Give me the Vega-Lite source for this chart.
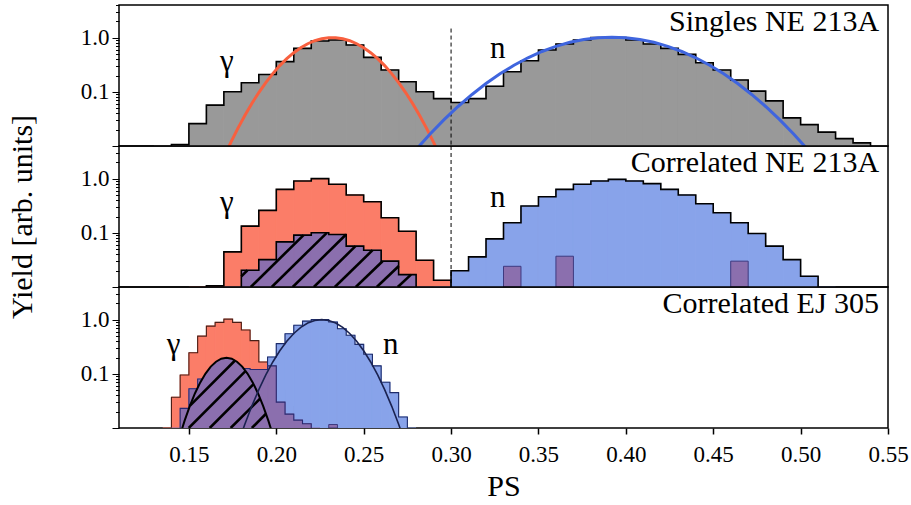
{
"$schema": "https://vega.github.io/schema/vega-lite/v6.json",
"background": "white",
"padding": {"left": 6, "top": 3, "right": 0, "bottom": 0},
"spacing": 0,
"bounds": "flush",
"config": {
  "view": {"stroke": "black", "strokeWidth": 1.5},
  "font": "Liberation Serif",
  "axis": {"labelFont": "Liberation Serif", "titleFont": "Liberation Serif", "labelFontSize": 23, "titleFontSize": 30, "titleFontWeight": "normal", "labelColor": "black", "titleColor": "black", "tickColor": "black", "domain": false, "grid": false, "labelFlush": false, "labelOverlap": false}
},
"datasets": {
"hist": [
{"p":1,"s":"g","x":0.13,"x2":0.14,"v":0.001},{"p":1,"s":"g","x":0.14,"x2":0.15,"v":0.0106},{"p":1,"s":"g","x":0.15,"x2":0.16,"v":0.0259},{"p":1,"s":"g","x":0.16,"x2":0.17,"v":0.0567},{"p":1,"s":"g","x":0.17,"x2":0.18,"v":0.1},{"p":1,"s":"g","x":0.18,"x2":0.19,"v":0.147},{"p":1,"s":"g","x":0.19,"x2":0.2,"v":0.209},{"p":1,"s":"g","x":0.2,"x2":0.21,"v":0.36},{"p":1,"s":"g","x":0.21,"x2":0.22,"v":0.634},{"p":1,"s":"g","x":0.22,"x2":0.23,"v":0.868},{"p":1,"s":"g","x":0.23,"x2":0.24,"v":0.906},{"p":1,"s":"g","x":0.24,"x2":0.25,"v":0.732},{"p":1,"s":"g","x":0.25,"x2":0.26,"v":0.432},{"p":1,"s":"g","x":0.26,"x2":0.27,"v":0.252},{"p":1,"s":"g","x":0.27,"x2":0.28,"v":0.153},{"p":1,"s":"g","x":0.28,"x2":0.29,"v":0.1},{"p":1,"s":"g","x":0.29,"x2":0.3,"v":0.075},{"p":1,"s":"g","x":0.3,"x2":0.31,"v":0.0634},{"p":1,"s":"g","x":0.31,"x2":0.32,"v":0.075},{"p":1,"s":"g","x":0.32,"x2":0.33,"v":0.127},{"p":1,"s":"g","x":0.33,"x2":0.34,"v":0.235},{"p":1,"s":"g","x":0.34,"x2":0.35,"v":0.375},{"p":1,"s":"g","x":0.35,"x2":0.36,"v":0.59},{"p":1,"s":"g","x":0.36,"x2":0.37,"v":0.764},{"p":1,"s":"g","x":0.37,"x2":0.38,"v":0.906},{"p":1,"s":"g","x":0.38,"x2":0.39,"v":1.0},{"p":1,"s":"g","x":0.39,"x2":0.4,"v":1.0},{"p":1,"s":"g","x":0.4,"x2":0.41,"v":0.906},{"p":1,"s":"g","x":0.41,"x2":0.42,"v":0.764},{"p":1,"s":"g","x":0.42,"x2":0.43,"v":0.634},{"p":1,"s":"g","x":0.43,"x2":0.44,"v":0.49},{"p":1,"s":"g","x":0.44,"x2":0.45,"v":0.344},{"p":1,"s":"g","x":0.45,"x2":0.46,"v":0.252},{"p":1,"s":"g","x":0.46,"x2":0.47,"v":0.165},{"p":1,"s":"g","x":0.47,"x2":0.48,"v":0.103},{"p":1,"s":"g","x":0.48,"x2":0.49,"v":0.068},{"p":1,"s":"g","x":0.49,"x2":0.5,"v":0.033},{"p":1,"s":"g","x":0.5,"x2":0.51,"v":0.0248},{"p":1,"s":"g","x":0.51,"x2":0.52,"v":0.018},{"p":1,"s":"g","x":0.52,"x2":0.53,"v":0.0137},{"p":1,"s":"g","x":0.53,"x2":0.54,"v":0.0114},{"p":1,"s":"g","x":0.54,"x2":0.55,"v":0.001},

{"p":2,"s":"r","x":0.15,"x2":0.16,"v":0.001},{"p":2,"s":"r","x":0.16,"x2":0.17,"v":0.0105},{"p":2,"s":"r","x":0.17,"x2":0.18,"v":0.0445},{"p":2,"s":"r","x":0.18,"x2":0.19,"v":0.133},{"p":2,"s":"r","x":0.19,"x2":0.2,"v":0.259},{"p":2,"s":"r","x":0.2,"x2":0.21,"v":0.634},{"p":2,"s":"r","x":0.21,"x2":0.22,"v":0.906},{"p":2,"s":"r","x":0.22,"x2":0.23,"v":1.0},{"p":2,"s":"r","x":0.23,"x2":0.24,"v":0.785},{"p":2,"s":"r","x":0.24,"x2":0.25,"v":0.5},{"p":2,"s":"r","x":0.25,"x2":0.26,"v":0.375},{"p":2,"s":"r","x":0.26,"x2":0.27,"v":0.19},{"p":2,"s":"r","x":0.27,"x2":0.28,"v":0.107},{"p":2,"s":"r","x":0.28,"x2":0.29,"v":0.0312},{"p":2,"s":"r","x":0.29,"x2":0.3,"v":0.0133},{"p":2,"s":"r","x":0.3,"x2":0.31,"v":0.001},

{"p":2,"s":"b","x":0.29,"x2":0.3,"v":0.001},{"p":2,"s":"b","x":0.3,"x2":0.31,"v":0.02},{"p":2,"s":"b","x":0.31,"x2":0.32,"v":0.036},{"p":2,"s":"b","x":0.32,"x2":0.33,"v":0.0774},{"p":2,"s":"b","x":0.33,"x2":0.34,"v":0.153},{"p":2,"s":"b","x":0.34,"x2":0.35,"v":0.312},{"p":2,"s":"b","x":0.35,"x2":0.36,"v":0.464},{"p":2,"s":"b","x":0.36,"x2":0.37,"v":0.634},{"p":2,"s":"b","x":0.37,"x2":0.38,"v":0.785},{"p":2,"s":"b","x":0.38,"x2":0.39,"v":0.906},{"p":2,"s":"b","x":0.39,"x2":0.4,"v":0.97},{"p":2,"s":"b","x":0.4,"x2":0.41,"v":0.906},{"p":2,"s":"b","x":0.41,"x2":0.42,"v":0.808},{"p":2,"s":"b","x":0.42,"x2":0.43,"v":0.634},{"p":2,"s":"b","x":0.43,"x2":0.44,"v":0.5},{"p":2,"s":"b","x":0.44,"x2":0.45,"v":0.344},{"p":2,"s":"b","x":0.45,"x2":0.46,"v":0.235},{"p":2,"s":"b","x":0.46,"x2":0.47,"v":0.153},{"p":2,"s":"b","x":0.47,"x2":0.48,"v":0.097},{"p":2,"s":"b","x":0.48,"x2":0.49,"v":0.0567},{"p":2,"s":"b","x":0.49,"x2":0.5,"v":0.032},{"p":2,"s":"b","x":0.5,"x2":0.51,"v":0.0158},{"p":2,"s":"b","x":0.51,"x2":0.52,"v":0.001},

{"p":2,"s":"h","x":0.17,"x2":0.18,"v":0.001},{"p":2,"s":"h","x":0.18,"x2":0.19,"v":0.0204},{"p":2,"s":"h","x":0.19,"x2":0.2,"v":0.032},{"p":2,"s":"h","x":0.2,"x2":0.21,"v":0.068},{"p":2,"s":"h","x":0.21,"x2":0.22,"v":0.0906},{"p":2,"s":"h","x":0.22,"x2":0.23,"v":0.1},{"p":2,"s":"h","x":0.23,"x2":0.24,"v":0.093},{"p":2,"s":"h","x":0.24,"x2":0.25,"v":0.0567},{"p":2,"s":"h","x":0.25,"x2":0.26,"v":0.0478},{"p":2,"s":"h","x":0.26,"x2":0.27,"v":0.03},{"p":2,"s":"h","x":0.27,"x2":0.28,"v":0.0169},{"p":2,"s":"h","x":0.28,"x2":0.29,"v":0.001},

{"p":2,"s":"m","x":0.33,"x2":0.34,"v":0.0241},{"p":2,"s":"m","x":0.36,"x2":0.37,"v":0.037},{"p":2,"s":"m","x":0.46,"x2":0.47,"v":0.03},

{"p":3,"s":"r","x":0.135,"x2":0.14,"v":0.001},{"p":3,"s":"r","x":0.14,"x2":0.145,"v":0.037},{"p":3,"s":"r","x":0.145,"x2":0.15,"v":0.095},{"p":3,"s":"r","x":0.15,"x2":0.155,"v":0.245},{"p":3,"s":"r","x":0.155,"x2":0.16,"v":0.495},{"p":3,"s":"r","x":0.16,"x2":0.165,"v":0.76},{"p":3,"s":"r","x":0.165,"x2":0.17,"v":0.89},{"p":3,"s":"r","x":0.17,"x2":0.175,"v":1.02},{"p":3,"s":"r","x":0.175,"x2":0.18,"v":0.89},{"p":3,"s":"r","x":0.18,"x2":0.185,"v":0.645},{"p":3,"s":"r","x":0.185,"x2":0.19,"v":0.41},{"p":3,"s":"r","x":0.19,"x2":0.195,"v":0.165},{"p":3,"s":"r","x":0.195,"x2":0.2,"v":0.1},{"p":3,"s":"r","x":0.2,"x2":0.205,"v":0.05},{"p":3,"s":"r","x":0.205,"x2":0.21,"v":0.025},{"p":3,"s":"r","x":0.21,"x2":0.215,"v":0.012},{"p":3,"s":"r","x":0.215,"x2":0.22,"v":0.001},

{"p":3,"s":"b","x":0.19,"x2":0.195,"v":0.001},{"p":3,"s":"b","x":0.195,"x2":0.2,"v":0.204},{"p":3,"s":"b","x":0.2,"x2":0.205,"v":0.36},{"p":3,"s":"b","x":0.205,"x2":0.21,"v":0.55},{"p":3,"s":"b","x":0.21,"x2":0.215,"v":0.785},{"p":3,"s":"b","x":0.215,"x2":0.22,"v":0.94},{"p":3,"s":"b","x":0.22,"x2":0.225,"v":1.0},{"p":3,"s":"b","x":0.225,"x2":0.23,"v":1.0},{"p":3,"s":"b","x":0.23,"x2":0.235,"v":0.906},{"p":3,"s":"b","x":0.235,"x2":0.24,"v":0.68},{"p":3,"s":"b","x":0.24,"x2":0.245,"v":0.514},{"p":3,"s":"b","x":0.245,"x2":0.25,"v":0.35},{"p":3,"s":"b","x":0.25,"x2":0.255,"v":0.23},{"p":3,"s":"b","x":0.255,"x2":0.26,"v":0.14},{"p":3,"s":"b","x":0.26,"x2":0.265,"v":0.07},{"p":3,"s":"b","x":0.265,"x2":0.27,"v":0.045},{"p":3,"s":"b","x":0.27,"x2":0.275,"v":0.016},{"p":3,"s":"b","x":0.275,"x2":0.28,"v":0.001},

{"p":3,"s":"h","x":0.14,"x2":0.145,"v":0.001},{"p":3,"s":"h","x":0.145,"x2":0.15,"v":0.023},{"p":3,"s":"h","x":0.15,"x2":0.155,"v":0.053},{"p":3,"s":"h","x":0.155,"x2":0.16,"v":0.08},{"p":3,"s":"h","x":0.16,"x2":0.165,"v":0.1},{"p":3,"s":"h","x":0.165,"x2":0.17,"v":0.115},{"p":3,"s":"h","x":0.17,"x2":0.175,"v":0.12},{"p":3,"s":"h","x":0.175,"x2":0.18,"v":0.125},{"p":3,"s":"h","x":0.18,"x2":0.185,"v":0.125},{"p":3,"s":"h","x":0.185,"x2":0.19,"v":0.12},{"p":3,"s":"h","x":0.19,"x2":0.195,"v":0.12},{"p":3,"s":"h","x":0.195,"x2":0.2,"v":0.14},{"p":3,"s":"h","x":0.2,"x2":0.205,"v":0.03},{"p":3,"s":"h","x":0.205,"x2":0.21,"v":0.018},{"p":3,"s":"h","x":0.21,"x2":0.215,"v":0.014},{"p":3,"s":"h","x":0.215,"x2":0.22,"v":0.012},{"p":3,"s":"h","x":0.22,"x2":0.225,"v":0.001},

{"p":3,"s":"m","x":0.23,"x2":0.235,"v":0.0116}
],
"curves": [
{"c":"r1","x":0.170,"v":0.00619},{"c":"r1","x":0.174,"v":0.01168},{"c":"r1","x":0.178,"v":0.02113},{"c":"r1","x":0.182,"v":0.03665},{"c":"r1","x":0.186,"v":0.0609},{"c":"r1","x":0.190,"v":0.097},{"c":"r1","x":0.194,"v":0.1481},{"c":"r1","x":0.198,"v":0.2167},{"c":"r1","x":0.202,"v":0.3042},{"c":"r1","x":0.206,"v":0.409},{"c":"r1","x":0.210,"v":0.527},{"c":"r1","x":0.214,"v":0.6514},{"c":"r1","x":0.218,"v":0.7716},{"c":"r1","x":0.222,"v":0.876},{"c":"r1","x":0.226,"v":0.9535},{"c":"r1","x":0.230,"v":0.995},{"c":"r1","x":0.234,"v":0.995},{"c":"r1","x":0.238,"v":0.9535},{"c":"r1","x":0.242,"v":0.876},{"c":"r1","x":0.246,"v":0.7716},{"c":"r1","x":0.250,"v":0.6514},{"c":"r1","x":0.254,"v":0.527},{"c":"r1","x":0.258,"v":0.409},{"c":"r1","x":0.262,"v":0.3042},{"c":"r1","x":0.266,"v":0.2167},{"c":"r1","x":0.270,"v":0.1481},{"c":"r1","x":0.274,"v":0.097},{"c":"r1","x":0.278,"v":0.0609},{"c":"r1","x":0.282,"v":0.03665},{"c":"r1","x":0.286,"v":0.02113},{"c":"r1","x":0.290,"v":0.01168},{"c":"r1","x":0.294,"v":0.00619},

{"c":"b1","x":0.272,"v":0.00425},{"c":"b1","x":0.280,"v":0.00862},{"c":"b1","x":0.288,"v":0.01665},{"c":"b1","x":0.296,"v":0.0306},{"c":"b1","x":0.304,"v":0.0536},{"c":"b1","x":0.312,"v":0.0893},{"c":"b1","x":0.320,"v":0.1419},{"c":"b1","x":0.328,"v":0.2146},{"c":"b1","x":0.336,"v":0.3093},{"c":"b1","x":0.344,"v":0.4245},{"c":"b1","x":0.352,"v":0.5549},{"c":"b1","x":0.360,"v":0.6908},{"c":"b1","x":0.368,"v":0.8193},{"c":"b1","x":0.376,"v":0.9253},{"c":"b1","x":0.384,"v":0.9954},{"c":"b1","x":0.392,"v":1.02},{"c":"b1","x":0.400,"v":0.9954},{"c":"b1","x":0.408,"v":0.9253},{"c":"b1","x":0.416,"v":0.8193},{"c":"b1","x":0.424,"v":0.6908},{"c":"b1","x":0.432,"v":0.5549},{"c":"b1","x":0.440,"v":0.4245},{"c":"b1","x":0.448,"v":0.3093},{"c":"b1","x":0.456,"v":0.2146},{"c":"b1","x":0.464,"v":0.1419},{"c":"b1","x":0.472,"v":0.0893},{"c":"b1","x":0.480,"v":0.0536},{"c":"b1","x":0.488,"v":0.0306},{"c":"b1","x":0.496,"v":0.01665},{"c":"b1","x":0.504,"v":0.00862},{"c":"b1","x":0.512,"v":0.00425},

{"c":"b3","x":0.178,"v":0.00505},{"c":"b3","x":0.182,"v":0.01176},{"c":"b3","x":0.186,"v":0.0254},{"c":"b3","x":0.190,"v":0.0511},{"c":"b3","x":0.194,"v":0.0953},{"c":"b3","x":0.198,"v":0.1654},{"c":"b3","x":0.202,"v":0.2666},{"c":"b3","x":0.206,"v":0.3993},{"c":"b3","x":0.210,"v":0.5557},{"c":"b3","x":0.214,"v":0.7186},{"c":"b3","x":0.218,"v":0.8634},{"c":"b3","x":0.222,"v":0.964},{"c":"b3","x":0.226,"v":1.0},{"c":"b3","x":0.230,"v":0.964},{"c":"b3","x":0.234,"v":0.8634},{"c":"b3","x":0.238,"v":0.7186},{"c":"b3","x":0.242,"v":0.5557},{"c":"b3","x":0.246,"v":0.3993},{"c":"b3","x":0.250,"v":0.2666},{"c":"b3","x":0.254,"v":0.1654},{"c":"b3","x":0.258,"v":0.0953},{"c":"b3","x":0.262,"v":0.0511},{"c":"b3","x":0.266,"v":0.0254},{"c":"b3","x":0.270,"v":0.01176},{"c":"b3","x":0.274,"v":0.00505},

{"c":"h3","x":0.1445,"v":0.00664},{"c":"h3","x":0.1475,"v":0.01354},{"c":"h3","x":0.1505,"v":0.0254},{"c":"h3","x":0.1535,"v":0.0438},{"c":"h3","x":0.1565,"v":0.0694},{"c":"h3","x":0.1595,"v":0.1012},{"c":"h3","x":0.1625,"v":0.1358},{"c":"h3","x":0.1655,"v":0.1674},{"c":"h3","x":0.1685,"v":0.1899},{"c":"h3","x":0.1715,"v":0.198},{"c":"h3","x":0.1745,"v":0.1899},{"c":"h3","x":0.1775,"v":0.1674},{"c":"h3","x":0.1805,"v":0.1358},{"c":"h3","x":0.1835,"v":0.1012},{"c":"h3","x":0.1865,"v":0.0694},{"c":"h3","x":0.1895,"v":0.0438},{"c":"h3","x":0.1925,"v":0.0254},{"c":"h3","x":0.1955,"v":0.01354},{"c":"h3","x":0.1985,"v":0.00664}
],
"hatch": [
{"p":2,"x":0.18,"v":0.0157,"x2":0.1835,"v2":0.0204},{"p":2,"x":0.1854,"v":0.01,"x2":0.2156,"v2":0.0907},{"p":2,"x":0.1974,"v":0.01,"x2":0.2289,"v2":0.1},{"p":2,"x":0.2094,"v":0.01,"x2":0.2399,"v2":0.093},{"p":2,"x":0.2215,"v":0.01,"x2":0.2453,"v2":0.0567},{"p":2,"x":0.2335,"v":0.01,"x2":0.2551,"v2":0.0478},{"p":2,"x":0.2455,"v":0.01,"x2":0.2608,"v2":0.0299},{"p":2,"x":0.2575,"v":0.01,"x2":0.2701,"v2":0.0244},{"p":2,"x":0.2695,"v":0.01,"x2":0.2771,"v2":0.0169},
{"p":3,"x":0.1505,"v":0.02566,"x2":0.1764,"v2":0.1763},{"p":3,"x":0.1499,"v":0.01,"x2":0.1825,"v2":0.1132},{"p":3,"x":0.1619,"v":0.01,"x2":0.187,"v2":0.0647},{"p":3,"x":0.1739,"v":0.01,"x2":0.1908,"v2":0.035},{"p":3,"x":0.186,"v":0.01,"x2":0.1941,"v2":0.01832}
],
"labels": [
{"p":1,"k":"t","t":"Singles NE 213A","x":0.5449,"v":1.95},
{"p":2,"k":"t","t":"Correlated NE 213A","x":0.5449,"v":1.95},
{"p":3,"k":"t","t":"Correlated EJ 305","x":0.5449,"v":1.95},
{"p":1,"k":"g","t":"γ","x":0.1717,"v":0.36},{"p":1,"k":"g","t":"n","x":0.3267,"v":0.625},
{"p":2,"k":"g","t":"γ","x":0.1717,"v":0.36},{"p":2,"k":"g","t":"n","x":0.3267,"v":0.445},
{"p":3,"k":"g","t":"γ","x":0.1413,"v":0.34},{"p":3,"k":"g","t":"n","x":0.2655,"v":0.34}
]
},
"vconcat": [
{
"width": 769, "height": 141,
"encoding": {
  "x": {"field": "x", "type": "quantitative", "scale": {"domain": [0.11, 0.55], "nice": false, "zero": false}, "axis": null},
  "y": {"field": "v", "type": "quantitative", "scale": {"type": "log", "domain": [0.01, 4], "nice": false}, "axis": {"title": null, "values": [0.01,0.02,0.03,0.04,0.05,0.06,0.07,0.08,0.09,0.1,0.2,0.3,0.4,0.5,0.6,0.7,0.8,0.9,1,2,3,4], "labelExpr": "datum.value == 1 ? '1.0' : (datum.value == 0.1 ? '0.1' : '')", "labelFontSize": {"condition": {"test": "datum.value == 0.1 || datum.value == 1", "value": 23}, "value": 0}, "tickSize": {"condition": {"test": "datum.value == 0.01 || datum.value == 0.1 || datum.value == 1", "value": 7}, "value": 3.5}, "labelPadding": 3}}
},
"layer": [
  {"data": {"name": "hist"}, "transform": [{"filter": "datum.p == 1 && datum.s == 'g'"}], "mark": {"type": "bar", "fill": "#999999", "stroke": "#999999", "strokeWidth": 1, "clip": true}, "encoding": {"x2": {"field": "x2"}, "y2": {"datum": 0.01}}},
  {"data": {"name": "hist"}, "transform": [{"filter": "datum.p == 1 && datum.s == 'g'"}, {"fold": ["x", "x2"], "as": ["k", "x"]}], "mark": {"type": "line", "color": "black", "strokeWidth": 1.6, "clip": true, "strokeJoin": "miter"}, "encoding": {"order": [{"field": "x", "type": "quantitative"}, {"field": "k", "type": "nominal", "sort": "descending"}]}},
  {"data": {"values": [{"x": 0.3, "v": 1.47, "v2": 0.01}]}, "mark": {"type": "rule", "color": "black", "strokeWidth": 1, "strokeDash": [4, 3], "clip": true}, "encoding": {"y2": {"field": "v2"}}},
  {"data": {"name": "curves"}, "transform": [{"filter": "datum.c == 'r1'"}], "mark": {"type": "line", "color": "#F8603F", "strokeWidth": 3, "clip": true}, "encoding": {}},
  {"data": {"name": "curves"}, "transform": [{"filter": "datum.c == 'b1'"}], "mark": {"type": "line", "color": "#3F65DE", "strokeWidth": 3, "clip": true}, "encoding": {}},
  {"data": {"name": "labels"}, "transform": [{"filter": "datum.p == 1 && datum.k == 't'"}], "mark": {"type": "text", "font": "Liberation Serif", "fontSize": 30, "align": "right", "baseline": "middle", "color": "black"}, "encoding": {"text": {"field": "t"}}},
  {"data": {"name": "labels"}, "transform": [{"filter": "datum.p == 1 && datum.k == 'g'"}], "mark": {"type": "text", "font": "Liberation Serif", "fontSize": 31, "align": "center", "baseline": "middle", "color": "black"}, "encoding": {"text": {"field": "t"}}}
]
},
{
"width": 769, "height": 141,
"encoding": {
  "x": {"field": "x", "type": "quantitative", "scale": {"domain": [0.11, 0.55], "nice": false, "zero": false}, "axis": null},
  "y": {"field": "v", "type": "quantitative", "scale": {"type": "log", "domain": [0.01, 4], "nice": false}, "axis": {"title": "Yield [arb. units]", "titlePadding": 43, "values": [0.01,0.02,0.03,0.04,0.05,0.06,0.07,0.08,0.09,0.1,0.2,0.3,0.4,0.5,0.6,0.7,0.8,0.9,1,2,3,4], "labelExpr": "datum.value == 1 ? '1.0' : (datum.value == 0.1 ? '0.1' : '')", "labelFontSize": {"condition": {"test": "datum.value == 0.1 || datum.value == 1", "value": 23}, "value": 0}, "tickSize": {"condition": {"test": "datum.value == 0.01 || datum.value == 0.1 || datum.value == 1", "value": 7}, "value": 3.5}, "labelPadding": 3}}
},
"layer": [
  {"data": {"name": "hist"}, "transform": [{"filter": "datum.p == 2 && datum.s == 'r'"}], "mark": {"type": "bar", "fill": "#FB7D68", "stroke": "#FB7D68", "strokeWidth": 1, "clip": true}, "encoding": {"x2": {"field": "x2"}, "y2": {"datum": 0.01}}},
  {"data": {"name": "hist"}, "transform": [{"filter": "datum.p == 2 && datum.s == 'r'"}, {"fold": ["x", "x2"], "as": ["k", "x"]}], "mark": {"type": "line", "color": "black", "strokeWidth": 1.6, "clip": true, "strokeJoin": "miter"}, "encoding": {"order": [{"field": "x", "type": "quantitative"}, {"field": "k", "type": "nominal", "sort": "descending"}]}},
  {"data": {"name": "hist"}, "transform": [{"filter": "datum.p == 2 && datum.s == 'b'"}], "mark": {"type": "bar", "fill": "#88A3EA", "stroke": "#88A3EA", "strokeWidth": 1, "clip": true}, "encoding": {"x2": {"field": "x2"}, "y2": {"datum": 0.01}}},
  {"data": {"name": "hist"}, "transform": [{"filter": "datum.p == 2 && datum.s == 'b'"}, {"fold": ["x", "x2"], "as": ["k", "x"]}], "mark": {"type": "line", "color": "black", "strokeWidth": 1.6, "clip": true, "strokeJoin": "miter"}, "encoding": {"order": [{"field": "x", "type": "quantitative"}, {"field": "k", "type": "nominal", "sort": "descending"}]}},
  {"data": {"name": "hist"}, "transform": [{"filter": "datum.p == 2 && datum.s == 'h'"}], "mark": {"type": "bar", "fill": "#8B6FAE", "stroke": "#8B6FAE", "strokeWidth": 1, "clip": true}, "encoding": {"x2": {"field": "x2"}, "y2": {"datum": 0.01}}},
  {"data": {"name": "hatch"}, "transform": [{"filter": "datum.p == 2"}], "mark": {"type": "rule", "color": "black", "strokeWidth": 2.6, "clip": true}, "encoding": {"x2": {"field": "x2"}, "y2": {"field": "v2"}}},
  {"data": {"name": "hist"}, "transform": [{"filter": "datum.p == 2 && datum.s == 'h'"}, {"fold": ["x", "x2"], "as": ["k", "x"]}], "mark": {"type": "line", "color": "black", "strokeWidth": 1.6, "clip": true, "strokeJoin": "miter"}, "encoding": {"order": [{"field": "x", "type": "quantitative"}, {"field": "k", "type": "nominal", "sort": "descending"}]}},
  {"data": {"name": "hist"}, "transform": [{"filter": "datum.p == 2 && datum.s == 'm'"}], "mark": {"type": "bar", "fill": "#8B6FAE", "stroke": "#3E3A80", "strokeWidth": 1, "clip": true}, "encoding": {"x2": {"field": "x2"}, "y2": {"datum": 0.01}}},
  {"data": {"values": [{"x": 0.3, "v": 4, "v2": 0.01}]}, "mark": {"type": "rule", "color": "black", "strokeWidth": 1, "strokeDash": [4, 3], "clip": true}, "encoding": {"y2": {"field": "v2"}}},
  {"data": {"name": "labels"}, "transform": [{"filter": "datum.p == 2 && datum.k == 't'"}], "mark": {"type": "text", "font": "Liberation Serif", "fontSize": 30, "align": "right", "baseline": "middle", "color": "black"}, "encoding": {"text": {"field": "t"}}},
  {"data": {"name": "labels"}, "transform": [{"filter": "datum.p == 2 && datum.k == 'g'"}], "mark": {"type": "text", "font": "Liberation Serif", "fontSize": 31, "align": "center", "baseline": "middle", "color": "black"}, "encoding": {"text": {"field": "t"}}}
]
},
{
"width": 769, "height": 141,
"encoding": {
  "x": {"field": "x", "type": "quantitative", "scale": {"domain": [0.11, 0.55], "nice": false, "zero": false}, "axis": {"title": "PS", "values": [0.15,0.2,0.25,0.3,0.35,0.4,0.45,0.5,0.55], "format": ".2f", "tickSize": 6, "tickWidth": 1.5, "labelPadding": 9, "titlePadding": 5}},
  "y": {"field": "v", "type": "quantitative", "scale": {"type": "log", "domain": [0.01, 4], "nice": false}, "axis": {"title": null, "values": [0.01,0.02,0.03,0.04,0.05,0.06,0.07,0.08,0.09,0.1,0.2,0.3,0.4,0.5,0.6,0.7,0.8,0.9,1,2,3,4], "labelExpr": "datum.value == 1 ? '1.0' : (datum.value == 0.1 ? '0.1' : '')", "labelFontSize": {"condition": {"test": "datum.value == 0.1 || datum.value == 1", "value": 23}, "value": 0}, "tickSize": {"condition": {"test": "datum.value == 0.01 || datum.value == 0.1 || datum.value == 1", "value": 7}, "value": 3.5}, "labelPadding": 3}}
},
"layer": [
  {"data": {"name": "hist"}, "transform": [{"filter": "datum.p == 3 && datum.s == 'r'"}], "mark": {"type": "bar", "fill": "#FB7D68", "stroke": "#FB7D68", "strokeWidth": 1, "clip": true}, "encoding": {"x2": {"field": "x2"}, "y2": {"datum": 0.01}}},
  {"data": {"name": "hist"}, "transform": [{"filter": "datum.p == 3 && datum.s == 'r'"}, {"fold": ["x", "x2"], "as": ["k", "x"]}], "mark": {"type": "line", "color": "#4A1E16", "strokeWidth": 1.1, "clip": true, "strokeJoin": "miter"}, "encoding": {"order": [{"field": "x", "type": "quantitative"}, {"field": "k", "type": "nominal", "sort": "descending"}]}},
  {"data": {"name": "hist"}, "transform": [{"filter": "datum.p == 3 && datum.s == 'b'"}], "mark": {"type": "bar", "fill": "#88A3EA", "stroke": "#88A3EA", "strokeWidth": 1, "clip": true}, "encoding": {"x2": {"field": "x2"}, "y2": {"datum": 0.01}}},
  {"data": {"name": "hist"}, "transform": [{"filter": "datum.p == 3 && datum.s == 'b'"}, {"fold": ["x", "x2"], "as": ["k", "x"]}], "mark": {"type": "line", "color": "#1E2C6A", "strokeWidth": 1.1, "clip": true, "strokeJoin": "miter"}, "encoding": {"order": [{"field": "x", "type": "quantitative"}, {"field": "k", "type": "nominal", "sort": "descending"}]}},
  {"data": {"name": "hist"}, "transform": [{"filter": "datum.p == 3 && datum.s == 'h'"}], "mark": {"type": "bar", "fill": "#8B6FAE", "stroke": "#8B6FAE", "strokeWidth": 1, "clip": true}, "encoding": {"x2": {"field": "x2"}, "y2": {"datum": 0.01}}},
  {"data": {"name": "hist"}, "transform": [{"filter": "datum.p == 3 && datum.s == 'h'"}, {"fold": ["x", "x2"], "as": ["k", "x"]}], "mark": {"type": "line", "color": "#2A2A70", "strokeWidth": 1.1, "clip": true, "strokeJoin": "miter"}, "encoding": {"order": [{"field": "x", "type": "quantitative"}, {"field": "k", "type": "nominal", "sort": "descending"}]}},
  {"data": {"name": "hist"}, "transform": [{"filter": "datum.p == 3 && datum.s == 'm'"}], "mark": {"type": "bar", "fill": "#8B6FAE", "stroke": "#3E3A80", "strokeWidth": 1, "clip": true}, "encoding": {"x2": {"field": "x2"}, "y2": {"datum": 0.01}}},
  {"data": {"name": "curves"}, "transform": [{"filter": "datum.c == 'h3'"}], "mark": {"type": "area", "color": "#8B6FAE", "orient": "vertical", "clip": true}, "encoding": {"y2": {"datum": 0.01}}},
  {"data": {"name": "hatch"}, "transform": [{"filter": "datum.p == 3"}], "mark": {"type": "rule", "color": "black", "strokeWidth": 2.6, "clip": true}, "encoding": {"x2": {"field": "x2"}, "y2": {"field": "v2"}}},
  {"data": {"name": "curves"}, "transform": [{"filter": "datum.c == 'h3'"}], "mark": {"type": "line", "color": "black", "strokeWidth": 2, "clip": true}, "encoding": {}},
  {"data": {"name": "curves"}, "transform": [{"filter": "datum.c == 'b3'"}], "mark": {"type": "line", "color": "#1A2250", "strokeWidth": 1.6, "clip": true}, "encoding": {}},
  {"data": {"name": "labels"}, "transform": [{"filter": "datum.p == 3 && datum.k == 't'"}], "mark": {"type": "text", "font": "Liberation Serif", "fontSize": 30, "align": "right", "baseline": "middle", "color": "black"}, "encoding": {"text": {"field": "t"}}},
  {"data": {"name": "labels"}, "transform": [{"filter": "datum.p == 3 && datum.k == 'g'"}], "mark": {"type": "text", "font": "Liberation Serif", "fontSize": 31, "align": "center", "baseline": "middle", "color": "black"}, "encoding": {"text": {"field": "t"}}}
]
}
]
}
